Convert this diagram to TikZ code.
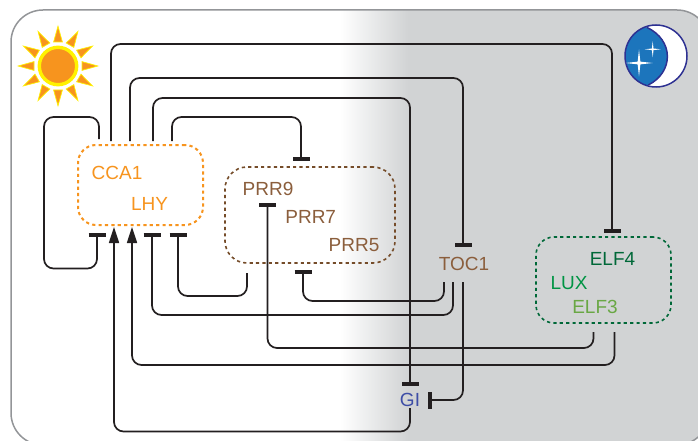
\documentclass[tikz,border=0pt]{standalone}
\usepackage{fontspec}
\setmainfont{Liberation Sans}
\usetikzlibrary{arrows.meta,positioning}
\definecolor{nightgray}{RGB}{209,211,212}
\definecolor{framegray}{RGB}{147,149,152}
\definecolor{linkblack}{RGB}{35,31,32}
\definecolor{sunorange}{RGB}{247,148,30}
\definecolor{sunyellow}{RGB}{255,242,0}
\definecolor{genebrown}{RGB}{139,94,60}
\definecolor{boxbrown}{RGB}{117,76,41}
\definecolor{elfdark}{RGB}{0,104,56}
\definecolor{luxgreen}{RGB}{0,148,68}
\definecolor{elflight}{RGB}{105,167,68}
\definecolor{giblue}{RGB}{61,77,166}
\definecolor{moonblue}{RGB}{28,117,188}
\definecolor{moonedge}{RGB}{46,49,146}

\begin{document}
\begin{tikzpicture}[x=1pt,y=-1pt,
  gene/.style={font=\fontsize{19}{21}\selectfont,inner sep=0pt},
  genebox/.style={draw,rounded corners=18pt,line width=1.6pt,dash pattern=on 3.2pt off 3.2pt},
  link/.style={draw=linkblack,line width=1.7pt,rounded corners=9.5pt},
  tbar/.style={-{Bar[width=17pt,line width=4.4pt]}},
  tarrow/.style={-{Triangle[length=16pt,width=10pt]}}
]
  \clip (0,0) rectangle (698,441);

  % Day and night
  \begin{scope}
    \clip[rounded corners=32pt] (11,10) rectangle (709,445);
    \fill[white] (11,10) rectangle (340,445);
    \shade[left color=white,right color=nightgray] (340,10) rectangle (408,445);
    \fill[nightgray] (408,10) rectangle (709,445);
  \end{scope}
  \draw[framegray,line width=1.5pt,rounded corners=32pt] (11,10) rectangle (709,445);

  % Sun
  \foreach \ang in {0,30,...,330}
    \fill[sunorange,draw=sunyellow,line width=0.7pt,line join=miter,rotate around={\ang:(58,66)}]
      (53.6,42) -- (58,26.2) -- (62.4,42) -- cycle;
  \fill[sunorange,draw=sunyellow,line width=3.4pt] (58,66) circle (18.7);

  % Moon
  \fill[white] (656,56) circle (31);
  \begin{scope}
    \clip (656,56) circle (31);
    \fill[moonblue] (646.7,27.3) .. controls (674,40) and (674,72) .. (648.3,85) -- (620,85) -- (620,27.3) -- cycle;
  \end{scope}
  \draw[moonedge,line width=1.5pt] (646.7,27.3) .. controls (674,40) and (674,72) .. (648.3,85);
  \draw[moonedge,line width=1.5pt] (656,56) circle (31);
  \foreach \sx/\sy/\sr in {639/63/13.5,652.7/49.3/8}
    \fill[white] (\sx+\sr,\sy) -- (\sx+0.1*\sr,\sy+0.1*\sr) -- (\sx,\sy+\sr) -- (\sx-0.1*\sr,\sy+0.1*\sr)
      -- (\sx-\sr,\sy) -- (\sx-0.1*\sr,\sy-0.1*\sr) -- (\sx,\sy-\sr) -- (\sx+0.1*\sr,\sy-0.1*\sr) -- cycle;

  % Gene groups
  \node[genebox,draw=sunorange,line width=2pt,minimum width=125pt,minimum height=80pt] (ccabox) at (140.5,185) {};
  \node[genebox,draw=boxbrown,minimum width=170pt,minimum height=96pt,rounded corners=22pt] (prrbox) at (310,215) {};
  \node[genebox,draw=elfdark,minimum width=135pt,minimum height=86pt] (elfbox) at (603.5,280) {};

  % Genes
  \node[gene,sunorange] (cca1) at (117,172.7) {CCA1};
  \node[gene,sunorange] (lhy) at (149.5,203.7) {LHY};
  \node[gene,genebrown] (prr9) at (268,188.7) {PRR9};
  \node[gene,genebrown] (prr7) at (310.7,216.7) {PRR7};
  \node[gene,genebrown] (prr5) at (354,244.7) {PRR5};
  \node[gene,genebrown] (toc1) at (464,263.7) {TOC1};
  \node[gene,elfdark] (elf4) at (612.5,258.7) {ELF4};
  \node[gene,luxgreen] (lux) at (569,282.7) {LUX};
  \node[gene,elflight] (elf3) at (595,306.7) {ELF3};
  \node[gene,giblue] (gi) at (410,399.7) {GI};

  % Ports
  \coordinate (ccaself) at (99,139);
  \coordinate (ccaelf) at (111,141);
  \coordinate (ccatoc) at (130,141);
  \coordinate (ccagi) at (153,141);
  \coordinate (ccaprr) at (172,141);
  \coordinate (ccabarA) at (97,232.7);
  \coordinate (ccaupA) at (114,227);
  \coordinate (ccaupB) at (132,227);
  \coordinate (ccabarB) at (152,232.7);
  \coordinate (ccabarC) at (178,232.7);
  \coordinate (prrtop) at (301,161);
  \coordinate (prrbarA) at (267.5,203);
  \coordinate (prrbarB) at (303,270);
  \coordinate (prrout) at (247,273);
  \coordinate (tocbar) at (463,247);
  \coordinate (tocoutA) at (444,282);
  \coordinate (tocoutB) at (453,282);
  \coordinate (tocoutC) at (463,282);
  \coordinate (elfbar) at (612,233);
  \coordinate (elfoutA) at (593.5,332);
  \coordinate (elfoutB) at (614.5,332);
  \coordinate (gibarA) at (410,386);
  \coordinate (gibarB) at (428,400);
  \coordinate (giout) at (410,408);

  % Links out of CCA1 and LHY
  \draw[link,tbar] (ccaself) |- (44,117) |- (97,268.5) -- (ccabarA);
  \draw[link,tbar] (ccaelf) |- (612,44) -- (elfbar);
  \draw[link,tbar] (ccatoc) |- (463,78) -- (tocbar);
  \draw[link,tbar] (ccagi) |- (410,98) -- (gibarA);
  \draw[link,tbar] (ccaprr) |- (301,117) -- (prrtop);

  % Links back
  \draw[link,tbar] (prrout) |- (178,296) -- (ccabarC);
  \draw[link,tbar] (tocoutA) |- (303,301) -- (prrbarB);
  \draw[link,tbar] (tocoutB) |- (152,315) -- (ccabarB);
  \draw[link,tbar] (tocoutC) |- (gibarB);
  \draw[link,tbar] (elfoutA) |- (267.5,348) -- (prrbarA);
  \draw[link,tarrow] (elfoutB) |- (132,365) -- (ccaupB);
  \draw[link,tarrow] (giout) |- (114,431.5) -- (ccaupA);
\end{tikzpicture}
\end{document}
